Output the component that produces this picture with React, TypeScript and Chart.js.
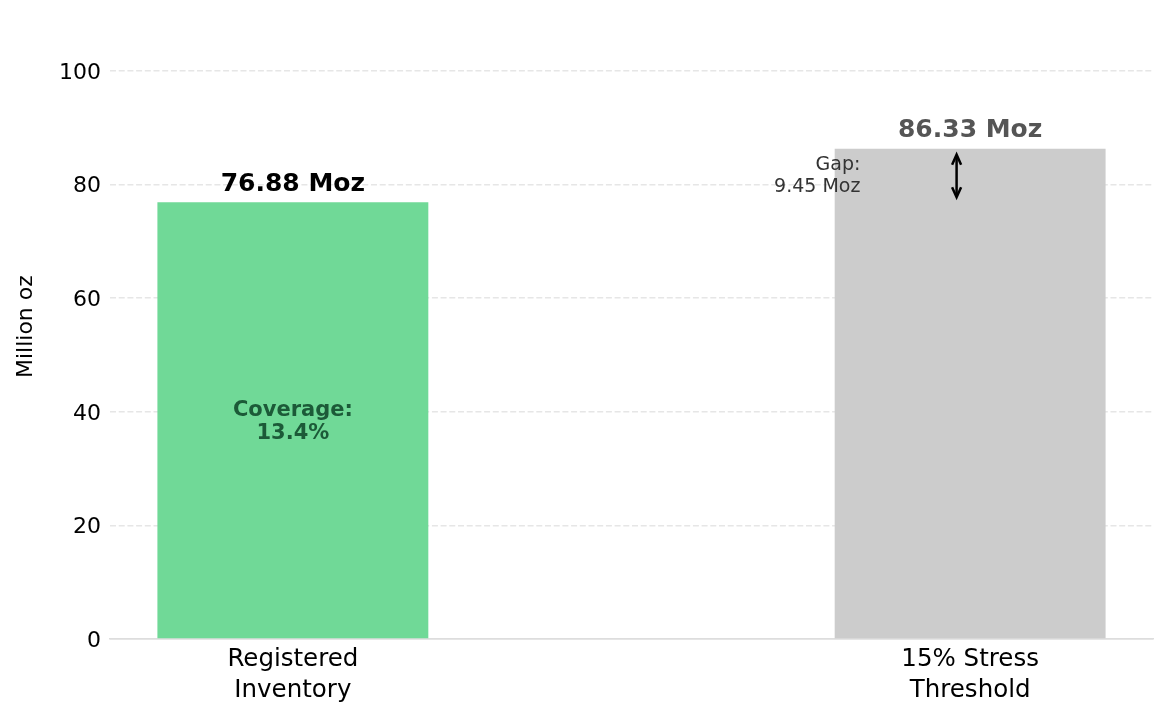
import React, { useEffect, useRef } from "react";
import { Chart, registerables } from "chart.js";

Chart.register(...registerables);

const categories: string[][] = [["Registered", "Inventory"], ["15% Stress", "Threshold"]];
const positions: number[] = [0, 1];
const values: number[] = [76.88, 86.33];
const barColors: string[] = ["#70d997", "#cccccc"];
const valueLabels: string[] = ["76.88 Moz", "86.33 Moz"];
const valueLabelColors: string[] = ["#000000", "#555555"];
const coverageLines: string[] = ["Coverage:", "13.4%"];
const gapLines: string[] = ["Gap:", "9.45 Moz"];
const yTicks: number[] = [0, 20, 40, 60, 80, 100];
const FONT = "'DejaVu Sans', sans-serif";

const annotationPlugin = {
  id: "annots",
  afterDatasetsDraw(chart: any) {
    const ctx = chart.ctx;
    const meta = chart.getDatasetMeta(0);
    const xs = chart.scales.x;
    const ys = chart.scales.y;
    ctx.save();
    meta.data.forEach((bar: any, i: number) => {
      ctx.font = `bold 25px ${FONT}`;
      ctx.fillStyle = valueLabelColors[i];
      ctx.textAlign = "center";
      ctx.textBaseline = "middle";
      ctx.fillText(valueLabels[i], bar.x, bar.y - 18);
    });
    const b0 = meta.data[0];
    const midY = ys.getPixelForValue(values[0] / 2);
    ctx.font = `bold 21px ${FONT}`;
    ctx.fillStyle = "#1c5a38";
    ctx.textAlign = "center";
    ctx.textBaseline = "middle";
    ctx.fillText(coverageLines[0], b0.x, midY - 10.5);
    ctx.fillText(coverageLines[1], b0.x, midY + 12.5);
    const gapMid = ys.getPixelForValue((values[0] + values[1]) / 2);
    ctx.font = `19px ${FONT}`;
    ctx.fillStyle = "#333333";
    ctx.textAlign = "right";
    const gx = xs.getPixelForValue(0.838);
    ctx.fillText(gapLines[0], gx, gapMid - 10.5);
    ctx.fillText(gapLines[1], gx, gapMid + 11.5);
    const ax = xs.getPixelForValue(0.98);
    const yTop = ys.getPixelForValue(values[1]) + 6;
    const yBot = ys.getPixelForValue(values[0]) - 5;
    ctx.strokeStyle = "#000000";
    ctx.lineWidth = 2.5;
    ctx.lineCap = "butt";
    ctx.lineJoin = "miter";
    ctx.beginPath();
    ctx.moveTo(ax, yTop + 1);
    ctx.lineTo(ax, yBot - 1);
    ctx.stroke();
    ctx.beginPath();
    ctx.moveTo(ax - 4.5, yTop + 10);
    ctx.lineTo(ax, yTop);
    ctx.lineTo(ax + 4.5, yTop + 10);
    ctx.moveTo(ax - 4.5, yBot - 10);
    ctx.lineTo(ax, yBot);
    ctx.lineTo(ax + 4.5, yBot - 10);
    ctx.stroke();
    ctx.restore();
  },
};

export default function App() {
  const ref = useRef<HTMLCanvasElement>(null);
  useEffect(() => {
    if (!ref.current) return;
    const chart = new Chart(ref.current, {
      type: "bar",
      data: {
        datasets: [
          {
            data: positions.map((p, i) => ({ x: p, y: values[i] })),
            backgroundColor: barColors,
            borderWidth: 0,
            barPercentage: 0.4,
            categoryPercentage: 1,
          },
        ],
      },
      options: {
        responsive: false,
        animation: false,
        devicePixelRatio: 1,
        layout: { padding: { top: 14.2, right: 14, left: 0, bottom: 0 } },
        plugins: { legend: { display: false }, tooltip: { enabled: false } },
        scales: {
          x: {
            type: "linear",
            offset: false,
            min: -0.27,
            max: 1.27,
            afterBuildTicks: (s: any) => {
              s.ticks = positions.map((v) => ({ value: v }));
            },
            afterFit: (s: any) => {
              s.height = 78;
            },
            grid: { display: false, drawTicks: false, offset: false },
            border: { display: true, color: "#dddddd", width: 1.5 },
            ticks: {
              padding: 5,
              maxRotation: 0,
              autoSkip: false,
              color: "#000000",
              font: { family: FONT, size: 24.5, lineHeight: 1.28 },
              callback: (v: any) => {
                const i = positions.indexOf(Number(v));
                return i >= 0 ? categories[i] : "";
              },
            },
          },
          y: {
            min: 0,
            max: 110,
            afterBuildTicks: (s: any) => {
              s.ticks = yTicks.map((v) => ({ value: v }));
            },
            afterFit: (s: any) => {
              s.width = 110;
              s.paddingTop = 0;
              s.paddingBottom = 0;
            },
            grid: {
              drawTicks: false,
              lineWidth: 1.5,
              color: (c: any) => (c.tick && c.tick.value === 0 ? "#dddddd" : "#e6e6e6"),
            },
            border: {
              display: false,
              dash: (c: any) => (c.tick && c.tick.value === 0 ? [] : [6, 2.7]),
            },
            ticks: {
              padding: 9,
              labelOffset: 2,
              color: "#000000",
              font: { family: FONT, size: 22 },
            },
            title: {
              display: true,
              text: "Million oz",
              color: "#000000",
              font: { family: FONT, size: 22 },
              padding: { top: 13, bottom: 0 },
            },
          },
        },
      },
      plugins: [annotationPlugin],
    });
    return () => chart.destroy();
  }, []);
  return (
    <div style={{ position: "absolute", left: 0, top: 0, width: 1167, height: 717, background: "#fff" }}>
      <canvas ref={ref} width={1167} height={717} style={{ display: "block" }} />
    </div>
  );
}
